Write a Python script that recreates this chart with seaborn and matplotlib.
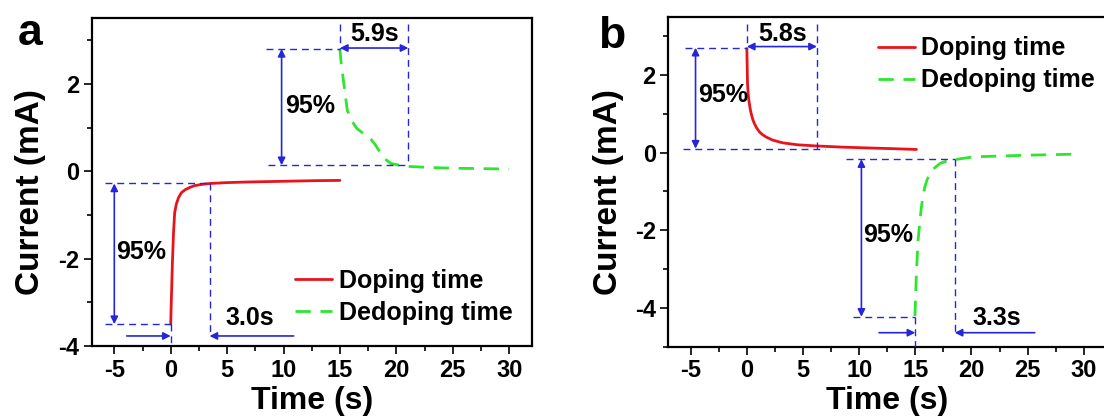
import numpy as np
import pandas as pd
import matplotlib
matplotlib.use("Agg")
import matplotlib.pyplot as plt
import seaborn as sns
from matplotlib.ticker import MultipleLocator

# ---- data ----
# panel a
a_dop_t = [0, 0.05, 0.15, 0.25, 0.35, 0.5, 0.7, 0.95, 1.3, 1.7, 2.1, 2.8, 3.5, 5, 7, 9, 11, 13, 15]
a_dop_i = [-3.5, -3.0, -2.1, -1.4, -0.95, -0.75, -0.6, -0.49, -0.42, -0.37, -0.33, -0.3, -0.28, -0.26, -0.245, -0.235, -0.225, -0.215, -0.21]
a_ded_t = [15, 15.1, 15.3, 15.65, 16.0, 16.5, 17.0, 17.6, 18.1, 18.6, 19.1, 19.5, 20.2, 21.1, 23, 25, 27.5, 30]
a_ded_i = [2.8, 2.5, 2.1, 1.4, 1.17, 0.98, 0.88, 0.78, 0.62, 0.42, 0.26, 0.18, 0.14, 0.11, 0.085, 0.07, 0.06, 0.05]

# panel b
b_dop_t = [0, 0.03, 0.06, 0.12, 0.18, 0.28, 0.39, 0.53, 0.68, 0.9, 1.13, 1.4, 1.72, 2.3, 3.2, 4.5, 6.2, 8.5, 10.65, 13, 15.1]
b_dop_i = [2.68, 2.2, 1.77, 1.5, 1.34, 1.15, 1.0, 0.85, 0.74, 0.62, 0.53, 0.46, 0.4, 0.32, 0.25, 0.2, 0.17, 0.14, 0.12, 0.1, 0.08]
b_ded_t = [14.97, 15.03, 15.1, 15.25, 15.4, 15.55, 15.7, 15.85, 16.05, 16.3, 16.7, 17.2, 17.8, 18.55, 20.2, 22.5, 24.7, 27, 29.5]
b_ded_i = [-4.21, -3.7, -3.1, -2.25, -1.8, -1.39, -1.1, -0.88, -0.7, -0.54, -0.4, -0.28, -0.22, -0.18, -0.11, -0.09, -0.07, -0.055, -0.04]

labels = ["Doping time", "Dedoping time"]
x_ticks = [-5, 0, 5, 10, 15, 20, 25, 30]
y_ticks = [-4, -2, 0, 2]

RED = "#e8141c"
GREEN = "#2ee62e"
BLUE = "#2626d9"

sns.set_theme(style="ticks")
plt.rcParams["font.family"] = ["Liberation Sans", "DejaVu Sans"]
plt.rcParams["font.weight"] = "bold"
plt.rcParams["axes.labelweight"] = "bold"
plt.rcParams["axes.unicode_minus"] = False
for key in ["text.color", "axes.labelcolor", "xtick.color", "ytick.color", "axes.edgecolor"]:
    plt.rcParams[key] = "black"

fig = plt.figure(figsize=(11.04, 4.19), dpi=100)
ax_a = fig.add_axes([0.0831, 0.1742, 0.3985, 0.7821])
ax_b = fig.add_axes([0.6053, 0.1726, 0.3967, 0.7876])


def make_df(t1, i1, t2, i2):
    d1 = pd.DataFrame({"t": t1, "i": i1, "kind": labels[0]})
    d2 = pd.DataFrame({"t": t2, "i": i2, "kind": labels[1]})
    return pd.concat([d1, d2], ignore_index=True)


def draw_curves(ax, df):
    sns.lineplot(data=df, x="t", y="i", hue="kind", style="kind",
                 palette={labels[0]: RED, labels[1]: GREEN},
                 dashes={labels[0]: "", labels[1]: (5.5, 3.5)},
                 linewidth=2.0, sort=False, estimator=None, ax=ax)


def dline(ax, xs, ys):
    ax.plot(xs, ys, color=BLUE, lw=1.0, ls=(0, (5, 3.5)), zorder=3)


def arrow(ax, start, end, style="-|>"):
    ax.annotate("", xy=end, xytext=start,
                arrowprops=dict(arrowstyle=style, color=BLUE, lw=1.2,
                                mutation_scale=11, shrinkA=0, shrinkB=0),
                zorder=4)


def note(ax, x, y, s):
    ax.text(x, y, s, fontsize=18, fontweight="bold", ha="center", va="center", color="black")


def style_axes(ax, ylim, ylabel_x):
    ax.set_xlim(-7, 32)
    ax.set_ylim(*ylim)
    ax.set_xticks(x_ticks)
    ax.set_yticks(y_ticks)
    ax.xaxis.set_minor_locator(MultipleLocator(2.5))
    ax.yaxis.set_minor_locator(MultipleLocator(1))
    ax.tick_params(which="major", direction="out", length=6, width=1.2, labelsize=17, pad=3,
                   colors="black")
    ax.tick_params(which="minor", direction="out", length=3.5, width=1.2, colors="black")
    ax.tick_params(top=False, right=False)
    for lab in ax.get_xticklabels() + ax.get_yticklabels():
        lab.set_fontweight("bold")
    for sp in ax.spines.values():
        sp.set_visible(True)
        sp.set_linewidth(1.6)
        sp.set_color("black")
    ax.set_xlabel("Time (s)", fontsize=23, fontweight="bold", labelpad=3)
    ax.set_ylabel("Current (mA)", fontsize=24, fontweight="bold")
    ax.yaxis.set_label_coords(ylabel_x, 0.47)


def legend(ax, x, y):
    h, l = ax.get_legend_handles_labels()
    ax.legend(h, l, loc="upper left", bbox_to_anchor=(x, y), frameon=False,
              handlelength=1.5, handletextpad=0.25,
              labelspacing=0.32, borderpad=0, borderaxespad=0,
              prop={"weight": "bold", "size": 18})


# ---- panel a ----
draw_curves(ax_a, make_df(a_dop_t, a_dop_i, a_ded_t, a_ded_i))
style_axes(ax_a, (-4, 3.5), -0.105)
legend(ax_a, 0.462, 0.235)

# doping 95% / 3.0 s
dline(ax_a, [-5.85, 0], [-3.5, -3.5])
dline(ax_a, [-5.85, 3.44], [-0.28, -0.28])
arrow(ax_a, (-5.0, -0.28), (-5.0, -3.5), "<|-|>")
note(ax_a, -2.6, -1.84, "95%")
dline(ax_a, [0, 0], [-3.5, -4.0])
dline(ax_a, [3.44, 3.44], [-0.28, -3.77])
arrow(ax_a, (-3.9, -3.77), (0, -3.77))
arrow(ax_a, (10.9, -3.77), (3.44, -3.77))
note(ax_a, 7.0, -3.36, "3.0s")

# dedoping 95% / 5.9 s
dline(ax_a, [8.45, 15], [2.8, 2.8])
dline(ax_a, [8.6, 21.07], [0.137, 0.137])
arrow(ax_a, (9.83, 0.137), (9.83, 2.8), "<|-|>")
note(ax_a, 12.33, 1.49, "95%")
dline(ax_a, [15, 15], [3.38, 2.8])
dline(ax_a, [21.07, 21.07], [3.38, 0.137])
arrow(ax_a, (15, 2.82), (21.07, 2.82), "<|-|>")
note(ax_a, 18.07, 3.15, "5.9s")

# ---- panel b ----
draw_curves(ax_b, make_df(b_dop_t, b_dop_i, b_ded_t, b_ded_i))
style_axes(ax_b, (-5, 3.5), -0.1)
legend(ax_b, 0.478, 0.94)

# doping 95% / 5.8 s
dline(ax_b, [-5.55, 0], [2.70, 2.70])
dline(ax_b, [-5.7, 6.92], [0.10, 0.10])
arrow(ax_b, (-4.57, 0.10), (-4.57, 2.70), "<|-|>")
note(ax_b, -2.08, 1.47, "95%")
dline(ax_b, [0, 0], [3.3, 2.7])
dline(ax_b, [6.24, 6.24], [3.3, 0.10])
arrow(ax_b, (0, 2.73), (6.24, 2.73), "<|-|>")
note(ax_b, 3.2, 3.05, "5.8s")

# dedoping 95% / 3.3 s
dline(ax_b, [8.86, 18.51], [-0.17, -0.17])
dline(ax_b, [9.45, 14.97], [-4.23, -4.23])
arrow(ax_b, (10.2, -0.17), (10.2, -4.23), "<|-|>")
note(ax_b, 12.57, -2.12, "95%")
dline(ax_b, [15, 15], [-4.23, -5.0])
dline(ax_b, [18.51, 18.51], [-0.17, -4.64])
arrow(ax_b, (11.77, -4.64), (15, -4.64))
arrow(ax_b, (25.64, -4.64), (18.51, -4.64))
note(ax_b, 22.3, -4.26, "3.3s")

fig.text(18 / 1104, 1 - 45 / 419, "a", fontsize=32, fontweight="bold", va="baseline", color="black")
fig.text(598 / 1104, 1 - 48 / 419, "b", fontsize=32, fontweight="bold", va="baseline", color="black")

fig.savefig("out.png", dpi=100, facecolor="white")
